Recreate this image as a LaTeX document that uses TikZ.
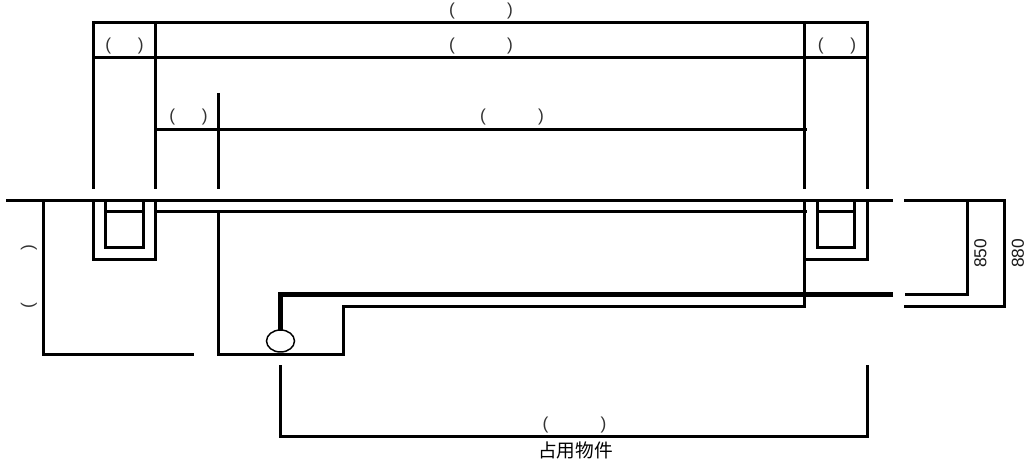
\documentclass[tikz,border=0pt]{standalone}
\usetikzlibrary{shapes.geometric}
\usepackage{fontspec}
\setmainfont{Liberation Sans}
\newfontfamily\cjkf{Noto Sans CJK SC}
\newcommand{\parlabel}[1]{(\hspace{#1})}
\tikzset{
  wall/.style={line width=2.25pt,line cap=butt,line join=miter,black},
  heavy/.style={line width=3.75pt,line cap=butt,line join=miter,black},
  lbl/.style={inner sep=0pt,font=\fontsize{13pt}{15pt}\selectfont,text=black!80},
  dim/.style={inner sep=0pt,font=\fontsize{13pt}{15pt}\selectfont,rotate=90,text=black!90},
}
\begin{document}
\begin{tikzpicture}[x=0.75pt,y=-0.75pt]
\useasboundingbox (0,0) rectangle (1028,460);
% upper frame
\draw[wall] (92,22.5) -- (869,22.5);
\draw[wall] (92,57.5) -- (869,57.5);
\draw[wall] (93.5,21) -- (93.5,189);
\draw[wall] (155.5,21) -- (155.5,189);
\draw[wall] (804.5,21) -- (804.5,189);
\draw[wall] (867.5,21) -- (867.5,189);
\draw[wall] (218.5,93) -- (218.5,189);
\draw[wall] (155,129.5) -- (807,129.5);
% ground
\draw[wall] (6,200.5) -- (893,200.5);
\draw[wall] (904,200.5) -- (1006,200.5);
% left wall and floor
\draw[wall] (43.5,200) -- (43.5,356);
\draw[wall] (44,354.5) -- (194,354.5);
\draw[wall] (218.5,211) -- (218.5,354.5) -- (343.5,354.5) -- (343.5,306.5) -- (804.5,306.5);
% left pit
\draw[wall] (93.5,200) -- (93.5,259.5) -- (155.5,259.5) -- (155.5,200);
\draw[wall] (105.5,200) -- (105.5,247.5) -- (143.5,247.5) -- (143.5,200);
\draw[wall] (105,211.5) -- (144,211.5);
\draw[wall] (155,211.5) -- (807,211.5);
% right pit
\draw[wall] (804.5,200) -- (804.5,308);
\draw[wall] (804.5,259.5) -- (867.5,259.5) -- (867.5,200);
\draw[wall] (817.5,200) -- (817.5,247.5) -- (854.5,247.5) -- (854.5,200);
\draw[wall] (817,211.5) -- (855,211.5);
% pipe
\draw[heavy] (893,294.5) -- (280.5,294.5) -- (280.5,331);
\node[draw=black,line width=1.1pt,ellipse,minimum width=21pt,minimum height=16.5pt,inner sep=0pt,outer sep=0pt] (valve) at (280.5,341) {};
% right dimension lines
\draw[wall] (905,294.5) -- (967.5,294.5) -- (967.5,200);
\draw[wall] (904,306.5) -- (1004.5,306.5) -- (1004.5,200);
% bottom bracket
\draw[wall] (280.5,365) -- (280.5,436.5) -- (867.5,436.5) -- (867.5,365);
% labels
\node[lbl] (t1) at (481,11.5) {\parlabel{39pt}};
\node[lbl] (t2) at (124.5,46.5) {\parlabel{20pt}};
\node[lbl] (t3) at (481,46.5) {\parlabel{39pt}};
\node[lbl] (t4) at (837,46.5) {\parlabel{20pt}};
\node[lbl] (t5) at (188.5,117.5) {\parlabel{20pt}};
\node[lbl] (t6) at (512,117.5) {\parlabel{39pt}};
\node[lbl] (t7) at (574.5,425) {\parlabel{39pt}};
\node[lbl,rotate=90] (t8) at (29,276.5) {\parlabel{39pt}};
\node[inner sep=0pt,font=\fontsize{14pt}{16pt}\selectfont\cjkf] (t9) at (575.5,450) {占用物件};
\node[dim] (d1) at (980.5,253.5) {850};
\node[dim] (d2) at (1018,253.5) {880};
\end{tikzpicture}
\end{document}
